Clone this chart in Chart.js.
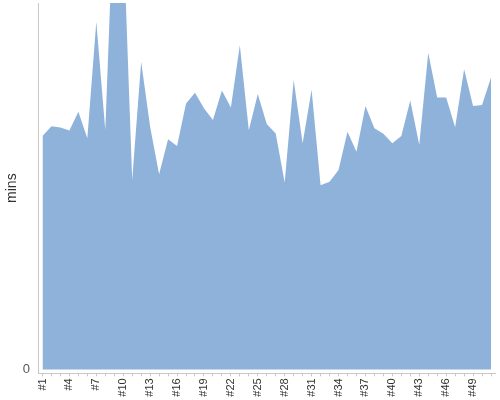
<!DOCTYPE html>
<html>
<head>
<meta charset="utf-8">
<script src="https://cdn.jsdelivr.net/npm/chart.js@4/dist/chart.umd.min.js"></script>
<style>
  html, body { margin: 0; padding: 0; background: #fff; }
  #wrap { width: 500px; height: 400px; }
</style>
</head>
<body>
<div id="wrap"><canvas id="c" width="500" height="400"></canvas></div>
<script>
const categories = Array.from({length: 51}, (_, i) => '#' + (i + 1));
const minsValues = [
  63.7, 66.4, 66.0, 65.2, 70.3, 63.1, 94.9, 65.3, 130, 120,
  51.7, 84.0, 66.2, 53.3, 62.8, 61.0, 72.6, 75.5, 71.3, 68.1,
  76.1, 71.5, 88.5, 65.3, 75.2, 67.0, 64.4, 51.0, 79.0, 61.7,
  76.3, 50.3, 51.2, 54.4, 64.9, 59.4, 71.9, 65.8, 64.3, 61.7,
  63.7, 73.4, 61.3, 86.4, 74.2, 74.2, 66.1, 81.9, 71.9, 72.2,
  79.7
];
const yTickValues = [0];
const yAxisTitle = 'mins';

new Chart(document.getElementById('c'), {
  type: 'line',
  data: {
    labels: categories,
    datasets: [{
      data: minsValues,
      fill: 'origin',
      backgroundColor: '#8fb2da',
      borderColor: 'rgba(0,0,0,0)',
      borderWidth: 0,
      pointRadius: 0,
      tension: 0
    }]
  },
  options: {
    responsive: false,
    animation: false,
    layout: { padding: { top: 3, right: 4.5, left: 0, bottom: 0 } },
    plugins: { legend: { display: false }, tooltip: { enabled: false } },
    scales: {
      x: {
        offset: true,
        grid: { display: true, drawOnChartArea: false, drawTicks: true, tickLength: 3, color: '#c8c8c8', offset: false },
        border: { display: true, color: '#c8c8c8', width: 1 },
        ticks: {
          autoSkip: false,
          maxRotation: 90,
          minRotation: 90,
          padding: 2,
          color: '#333',
          font: { family: 'Liberation Sans, Arial, sans-serif', size: 11 },
          callback: function (v, i) { return i % 3 === 0 ? categories[i] : ''; }
        },
        afterFit: function (s) { s.height = 26.7; s.paddingLeft = 0; s.paddingRight = 0; }
      },
      y: {
        min: -1.04,
        max: 100,
        grid: { display: false, drawTicks: false },
        border: { display: true, color: '#c8c8c8', width: 1 },
        afterBuildTicks: function (s) { s.ticks = yTickValues.map(v => ({ value: v })); },
        ticks: {
          padding: 8,
          color: '#555',
          font: { family: 'Liberation Sans, Arial, sans-serif', size: 13 }
        },
        title: {
          display: true,
          text: yAxisTitle,
          color: '#333',
          padding: { top: 4, bottom: 0 },
          font: { family: 'Liberation Sans, Arial, sans-serif', size: 14 }
        },
        afterFit: function (s) { s.width = 38; s.paddingTop = 0; s.paddingBottom = 0; }
      }
    }
  }
});
</script>
</body>
</html>
